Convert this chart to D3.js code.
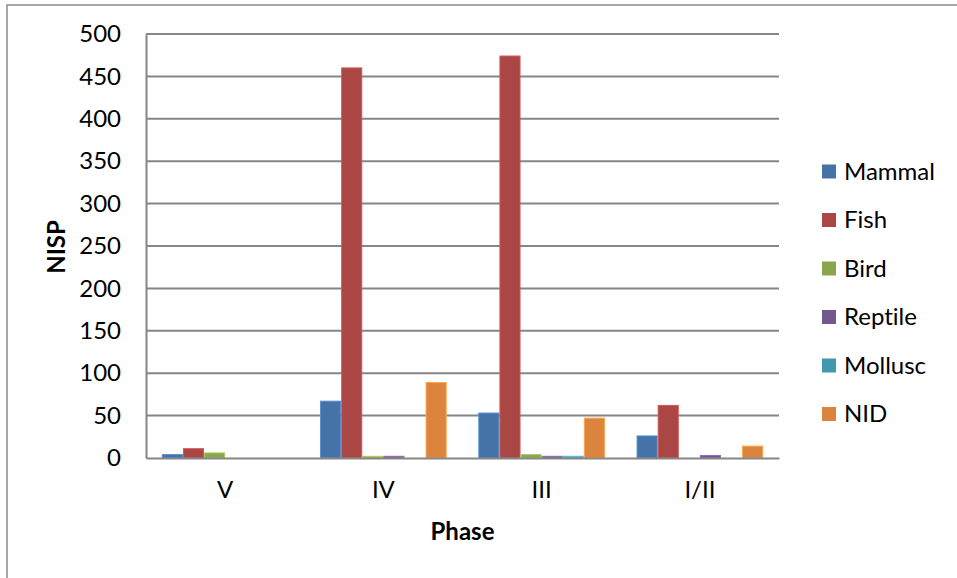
<!DOCTYPE html>
<html>
<head>
<meta charset="utf-8">
<script src="https://cdn.jsdelivr.net/npm/d3@7"></script>
<style>
  body { margin: 0; background: #fff; }
  text {
    font-family: Lato, "Open Sans", sans-serif;
    font-variant-ligatures: none;
    font-feature-settings: "liga" 0;
    fill: #000;
  }
</style>
</head>
<body>
<div id="chart"></div>
<script>
// Data
const phases = ["V", "IV", "III", "I/II"];
const series = ["Mammal", "Fish", "Bird", "Reptile", "Mollusc", "NID"];
const mammal = [4, 67, 53, 26];
const fish = [11, 460, 474, 62];
const bird = [6, 2, 4, 0];
const reptile = [0, 2, 2, 3];
const mollusc = [0, 0, 2, 0];
const nid = [0, 89, 47, 14];
const yTicks = [0, 50, 100, 150, 200, 250, 300, 350, 400, 450, 500];

const values = [mammal, fish, bird, reptile, mollusc, nid];
const colors = ["#4572A7", "#AA4643", "#89A54E", "#71588F", "#4198AF", "#DB843D"];

// Size
const W = 957, H = 578;
const plot = { left: 146, right: 779, top: 34, bottom: 458 };
const FONT = "24px";

const svg = d3.select("#chart").append("svg")
  .attr("width", W)
  .attr("height", H);

// Outer frame
svg.append("rect")
  .attr("x", 7).attr("y", 5)
  .attr("width", W + 10).attr("height", H + 10)
  .attr("fill", "none")
  .attr("stroke", "#8c8c8c")
  .attr("stroke-width", 1.5);

// Scales
const x0 = d3.scaleBand().domain(phases)
  .range([plot.left, plot.right])
  .paddingInner(0.2).paddingOuter(0.1);
const x1 = d3.scaleBand().domain(series).range([0, x0.bandwidth()]);
const y = d3.scaleLinear().domain([0, 500]).range([plot.bottom, plot.top]);

// Gridlines
svg.append("g")
  .selectAll("line")
  .data(yTicks.slice(1))
  .enter()
  .append("line")
  .attr("x1", plot.left).attr("x2", plot.right)
  .attr("y1", (d) => y(d)).attr("y2", (d) => y(d))
  .attr("stroke", "#868686")
  .attr("stroke-width", 2);

// Bars
const groups = svg.append("g")
  .selectAll("g")
  .data(series)
  .enter()
  .append("g")
  .attr("fill", (s, i) => colors[i])
  .attr("stroke", (s, i) => d3.color(colors[i]).brighter(0.6))
  .attr("stroke-width", 1);

groups.selectAll("rect")
  .data((s, i) => values[i].map((v, j) => ({ phase: phases[j], s: s, v: v })))
  .enter()
  .filter((d) => d.v > 0)
  .append("rect")
  .attr("x", (d) => x0(d.phase) + x1(d.s) + 0.5)
  .attr("width", x1.bandwidth() - 1)
  .attr("y", (d) => y(d.v))
  .attr("height", (d) => y(0) - y(d.v));

// Axes
const yAxis = svg.append("g")
  .attr("transform", "translate(" + plot.left + ",0)")
  .call(d3.axisLeft(y).tickValues(yTicks).tickSize(0).tickPadding(25));
yAxis.select(".domain").attr("stroke", "#868686").attr("stroke-width", 2);
yAxis.selectAll("text").style("font-size", FONT).attr("fill", "#000");

const xAxis = svg.append("g")
  .attr("transform", "translate(0," + plot.bottom + ")")
  .call(d3.axisBottom(x0).tickSize(0).tickPadding(23));
xAxis.select(".domain").attr("stroke", "#868686").attr("stroke-width", 2);
xAxis.selectAll("text").style("font-size", FONT).attr("fill", "#000");

// Axis titles
svg.append("text")
  .attr("x", (plot.left + plot.right) / 2)
  .attr("y", 532)
  .attr("dy", "0.35em")
  .attr("text-anchor", "middle")
  .style("font-size", FONT)
  .style("font-weight", "bold")
  .text("Phase");

svg.append("text")
  .attr("transform", "translate(57,247) rotate(-90)")
  .attr("dy", "0.35em")
  .attr("text-anchor", "middle")
  .style("font-size", FONT)
  .style("font-weight", "bold")
  .text("NISP");

// Legend
const legend = svg.append("g")
  .selectAll("g")
  .data(series)
  .enter()
  .append("g")
  .attr("transform", (s, i) => "translate(822," + (171.5 + i * 48.5) + ")");

legend.append("rect")
  .attr("x", 0).attr("y", -7)
  .attr("width", 14).attr("height", 14)
  .attr("fill", (s, i) => colors[i]);

legend.append("text")
  .attr("x", 22)
  .attr("dy", "0.35em")
  .style("font-size", FONT)
  .text((s) => s);
</script>
</body>
</html>
